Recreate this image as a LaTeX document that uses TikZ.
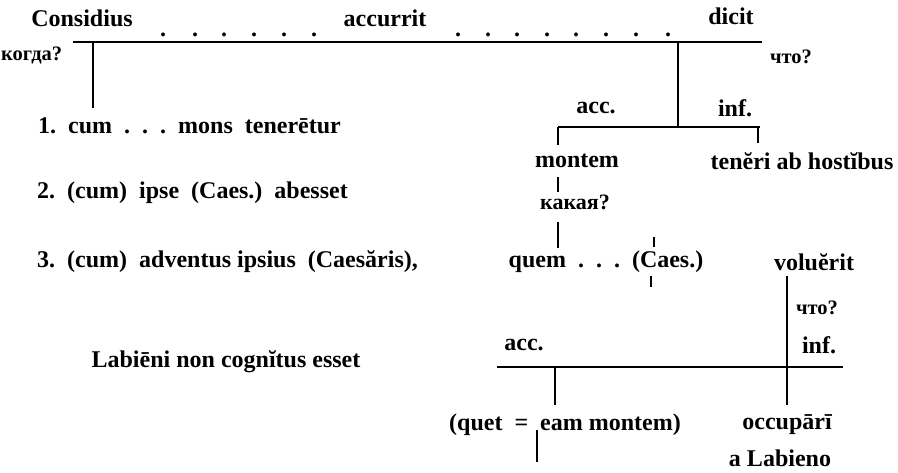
\documentclass[tikz,border=0pt]{standalone}
\usepackage{fontspec}
\setmainfont{Liberation Serif}
\usetikzlibrary{positioning}
\tikzset{
  word/.style={inner sep=0pt, font=\fontsize{24}{28}\selectfont\bfseries},
  ask/.style={inner sep=0pt, font=\fontsize{20.5}{25}\selectfont\bfseries},
  bar/.style={line width=2.2pt},
}
\newcommand{\dd}{\textbf{.}}
\newcommand{\ddd}{\enspace\dd\enspace\dd\enspace\dd\enspace}
\begin{document}
\begin{tikzpicture}[x=1pt,y=-1pt]
\useasboundingbox (0,0) rectangle (898,472);
% main clause
\node[word] (cons) at (82,18) {Considius}; % subject
\node[word] (accu) at (385,18) {accurrit}; % predicate 1
\node[word] (dici) at (731,16) {dicit}; % predicate 2
\foreach \x in {163,195,224,254,284,314} \node[word] (d\x) at (\x,35) {\dd};
\foreach \x in {458,488,517,547,576,606,636,668} \node[word] (e\x) at (\x,35) {\dd};
\coordinate (mainL) at (73,42);
\coordinate (mainR) at (762,42);
\draw[bar] (mainL) -- (mainR) ; % main line
\node[ask, anchor=west] (kogda) at (1,55) {когда?};
\node[ask] (chto1) at (791,57) {что?};
\coordinate (tempTop) at (93,42);
\coordinate (tempBot) at (93,108);
\draw[bar] (tempTop) -- (tempBot) ; % temporal clauses
% cum clauses
\node[word, anchor=west] (cl1) at (38,126) {1.\enspace cum\ddd mons\enspace tenerētur};
\node[word, anchor=west] (cl2) at (37,193) {2.\enspace (cum)\enspace ipse\enspace (Caes.)\enspace abesset};
\node[word, anchor=west] (cl3) at (37,262) {3.\enspace (cum)\enspace adventus ipsius\enspace (Caesăris),};
\node[word] (labi) at (226,362) {Labiēni non cognĭtus esset};
% object of dicit
\coordinate (objTop) at (678,42);
\coordinate (objBot) at (678,127);
\draw[bar] (objTop) -- (objBot) ;
\coordinate (accL) at (558,127);
\coordinate (accR) at (760,127);
\draw[bar] (accL) -- (accR) ; % acc. cum inf.
\node[word] (acc1) at (596,108) {acc.};
\node[word] (inf1) at (735,108) {inf.};
\coordinate (accLb) at (558,145);
\coordinate (accRb) at (758,143);
\draw[bar] (accL) -- (accLb) ;
\draw[bar] (758,127) -- (accRb) ;
\node[word] (mont) at (577,161) {montem};
\node[word] (tene) at (802,161) {tenĕri ab hostĭbus};
\node[ask, font=\fontsize{22}{26}\selectfont\bfseries] (kaka) at (575,202) {какая?};
\draw[bar] (558,177) -- (558,192) ; % montem - какая?
\draw[bar] (558,222) -- (558,248) ; % какая? - quem
\node[word] (quem) at (606,262) {quem\ddd(Caes.)};
\draw[line width=1.4pt] (654,237) -- (654,247) ;
\draw[line width=1.4pt] (651,276) -- (651,287) ;
\node[word] (volu) at (814,262) {voluĕrit};
% relative clause
\coordinate (infTop) at (787,276);
\coordinate (infBot) at (787,405);
\draw[bar] (infTop) -- (infBot) ;
\node[ask] (chto2) at (817,308) {что?};
\node[word] (inf2) at (819,345) {inf.};
\node[word] (acc2) at (524,345) {acc.};
\coordinate (relL) at (497,367);
\coordinate (relR) at (843,367);
\draw[bar] (relL) -- (relR) ;
\coordinate (relLb) at (555,405);
\draw[bar] (555,367) -- (relLb) ;
\node[word] (quet) at (565,425) {(quet\enspace=\enspace eam montem)};
\draw[bar] (537,430) -- (537,462) ;
\node[word] (occu) at (787,425) {occupārī};
\node[word] (alab) at (780,458) {a Labieno};
\end{tikzpicture}
\end{document}
